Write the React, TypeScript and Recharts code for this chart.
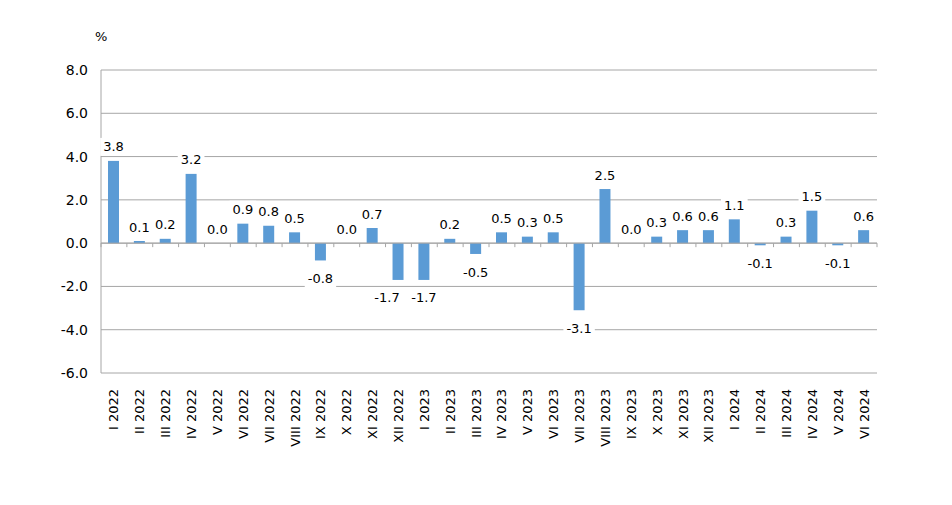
import React from 'react';
import { BarChart, Bar, XAxis, YAxis, CartesianGrid, ReferenceLine, ReferenceDot, LabelList } from 'recharts';

const categories = [
  'I 2022', 'II 2022', 'III 2022', 'IV 2022', 'V 2022', 'VI 2022', 'VII 2022', 'VIII 2022', 'IX 2022', 'X 2022', 'XI 2022', 'XII 2022',
  'I 2023', 'II 2023', 'III 2023', 'IV 2023', 'V 2023', 'VI 2023', 'VII 2023', 'VIII 2023', 'IX 2023', 'X 2023', 'XI 2023', 'XII 2023',
  'I 2024', 'II 2024', 'III 2024', 'IV 2024', 'V 2024', 'VI 2024',
];
const values = [
  3.8, 0.1, 0.2, 3.2, 0.0, 0.9, 0.8, 0.5, -0.8, 0.0, 0.7, -1.7,
  -1.7, 0.2, -0.5, 0.5, 0.3, 0.5, -3.1, 2.5, 0.0, 0.3, 0.6, 0.6,
  1.1, -0.1, 0.3, 1.5, -0.1, 0.6,
];
const yTicks = [-6, -4, -2, 0, 2, 4, 6, 8];

const data = categories.map((c, i) => ({ name: c, value: values[i] }));

const FONT = '"DejaVu Sans", Verdana, sans-serif';
const GRID = '#a6a6a6';
const BAR = '#5b9bd5';

// horizontal nudges Excel applied to avoid overlapping labels
const LABEL_NUDGE: Record<string, number> = { 'XII 2022': -11 };

const XTick = (props: any) => {
  const { x, y, payload } = props;
  return (
    <g transform={`translate(${x},${y})`}>
      <text transform="rotate(-90)" x={-2} y={0} dy="0.35em" textAnchor="end" fontSize={13} fontFamily={FONT} fill="#000">
        {payload.value}
      </text>
    </g>
  );
};

const textWidth = (s: string) => {
  let w = 0;
  for (const ch of s) {
    if (ch === '.') w += 4.1;
    else if (ch === '-') w += 4.7;
    else w += 8.3;
  }
  return w;
};

const LabelBox = ({ cx, cy, txt }: { cx: number; cy: number; txt: string }) => {
  const w = textWidth(txt) + 6;
  return (
    <g>
      <rect x={cx - w / 2} y={cy - 9} width={w} height={18} fill="#fff" />
      <text x={cx} y={cy} dy="0.35em" textAnchor="middle" fontSize={13} fontFamily={FONT} fill="#000">
        {txt}
      </text>
    </g>
  );
};

const ValueLabel = (props: any) => {
  const { x, y, width, height, value } = props;
  const name = String(value);
  const num = values[categories.indexOf(name)];
  const h = height || 0;
  const top = Math.min(y, y + h);
  const bottom = Math.max(y, y + h);
  const cx = x + width / 2 + (LABEL_NUDGE[name] || 0);
  const cy = num < 0 ? bottom + 18 : top - 14;
  return <LabelBox cx={cx} cy={cy} txt={num.toFixed(1)} />;
};

const ZeroLine = (props: any) => {
  const { x1, y1, x2, y2 } = props;
  const n = categories.length;
  const step = (x2 - x1) / n;
  const ticks = [];
  for (let i = 0; i <= n; i++) {
    const tx = x1 + i * step;
    ticks.push(<line key={i} x1={tx} x2={tx} y1={y1} y2={y1 + 4} stroke={GRID} strokeWidth={1} />);
  }
  return (
    <g>
      <line x1={x1} y1={y1} x2={x2} y2={y2} stroke={GRID} strokeWidth={1} />
      {ticks}
    </g>
  );
};

export default function App() {
  const zeros = data.filter((d) => d.value === 0);
  return (
    <div style={{ position: 'relative', width: 936, height: 489, fontFamily: FONT }}>
      <div style={{ position: 'absolute', left: 87, top: 21, fontSize: 13, fontFamily: FONT, color: '#000' }}>%</div>
      <BarChart width={936} height={489} data={data} margin={{ top: 62, right: 67, left: 0, bottom: 34 }} barCategoryGap={0}>
        <CartesianGrid horizontal vertical={false} stroke={GRID} strokeWidth={1} />
        <XAxis dataKey="name" axisLine={false} tickLine={false} height={90} interval={0} tick={<XTick />} tickMargin={8} />
        <YAxis
          domain={[-6, 8]}
          ticks={yTicks}
          width={93}
          tickLine={false}
          axisLine={{ stroke: GRID }}
          tickMargin={7}
          tickFormatter={(v: number) => v.toFixed(1)}
          tick={{ fontSize: 14, fontFamily: FONT, fill: '#000' }}
          interval={0}
        />
        <ReferenceLine y={0} shape={<ZeroLine />} />
        <Bar dataKey="value" fill={BAR} barSize={11} isAnimationActive={false}>
          <LabelList dataKey="name" content={<ValueLabel />} />
        </Bar>
        {zeros.map((d) => (
          <ReferenceDot
            key={d.name}
            x={d.name}
            y={0}
            r={1}
            shape={(p: any) => <LabelBox cx={p.cx} cy={p.cy - 14} txt={d.value.toFixed(1)} />}
          />
        ))}
      </BarChart>
    </div>
  );
}
